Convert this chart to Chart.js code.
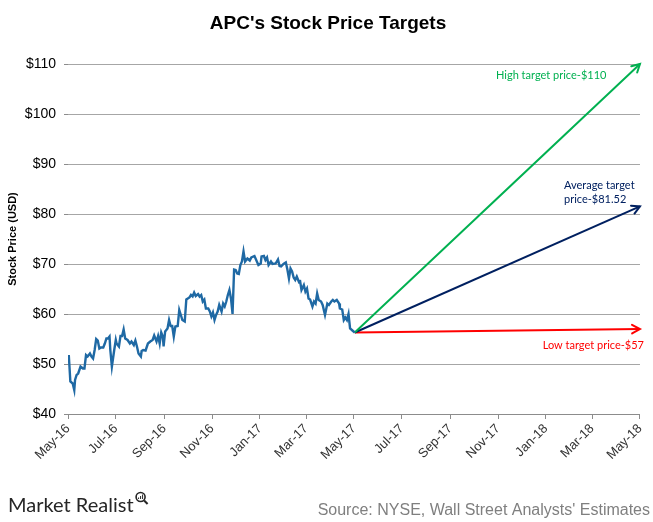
<!DOCTYPE html>
<html>
<head>
<meta charset="utf-8">
<script src="https://cdn.jsdelivr.net/npm/chart.js@4.4.1/dist/chart.umd.min.js"></script>
<style>
  html, body { margin: 0; padding: 0; background: #fff; }
  #wrap { width: 653px; height: 522px; }
</style>
</head>
<body>
<div id="wrap"><canvas id="grafico" width="653" height="522"></canvas></div>
<script>
// APC closing prices
const stockDates = [
  '2016-05-02','2016-05-04','2016-05-07','2016-05-09','2016-05-10','2016-05-12','2016-05-14','2016-05-17',
  '2016-05-20','2016-05-22','2016-05-24','2016-05-26','2016-05-29','2016-05-31','2016-06-02','2016-06-04',
  '2016-06-06','2016-06-08','2016-06-10','2016-06-12','2016-06-15','2016-06-17','2016-06-19','2016-06-21',
  '2016-06-23','2016-06-24','2016-06-26','2016-06-29','2016-07-01','2016-07-02','2016-07-05','2016-07-07',
  '2016-07-09','2016-07-11','2016-07-13','2016-07-16','2016-07-19','2016-07-21','2016-07-24','2016-07-26',
  '2016-07-28','2016-07-30','2016-08-02','2016-08-03','2016-08-05','2016-08-08','2016-08-11','2016-08-14',
  '2016-08-17','2016-08-19','2016-08-22','2016-08-24','2016-08-26','2016-08-28','2016-08-30','2016-08-31',
  '2016-09-02','2016-09-05','2016-09-07','2016-09-09','2016-09-11','2016-09-13','2016-09-15','2016-09-18',
  '2016-09-20','2016-09-22','2016-09-24','2016-09-27','2016-09-29','2016-10-03','2016-10-05','2016-10-07',
  '2016-10-09','2016-10-11','2016-10-14','2016-10-16','2016-10-18','2016-10-20','2016-10-22','2016-10-24',
  '2016-10-27','2016-10-29','2016-10-31','2016-11-02','2016-11-04','2016-11-06','2016-11-08','2016-11-10',
  '2016-11-13','2016-11-15','2016-11-17','2016-11-19','2016-11-21','2016-11-23','2016-11-25','2016-11-27',
  '2016-11-29','2016-12-01','2016-12-03','2016-12-05','2016-12-07','2016-12-09','2016-12-11','2016-12-13',
  '2016-12-16','2016-12-19','2016-12-21','2016-12-25','2016-12-30','2017-01-02','2017-01-03','2017-01-06',
  '2017-01-08','2017-01-10','2017-01-12','2017-01-15','2017-01-17','2017-01-21','2017-01-24','2017-01-26',
  '2017-01-28','2017-01-31','2017-02-03','2017-02-05','2017-02-07','2017-02-09','2017-02-11','2017-02-13',
  '2017-02-15','2017-02-17','2017-02-20','2017-02-21','2017-02-23','2017-02-26','2017-02-28','2017-03-02',
  '2017-03-04','2017-03-06','2017-03-09','2017-03-11','2017-03-13','2017-03-15','2017-03-17','2017-03-20',
  '2017-03-22','2017-03-25','2017-03-28','2017-03-30','2017-04-02','2017-04-04','2017-04-06','2017-04-09',
  '2017-04-12','2017-04-13','2017-04-16','2017-04-18','2017-04-20','2017-04-22','2017-04-24','2017-04-26',
  '2017-04-29','2017-05-02'
];
const stockPrices = [
  51.8, 46.5, 46.1, 44.8, 46.8, 47.8, 48.1, 49.5,
  49.1, 49.1, 51.8, 51.5, 52.1, 51.5, 51.1, 52.8,
  55.0, 54.7, 53.1, 53.3, 53.3, 54.1, 55.1, 55.1,
  55.5, 52.8, 49.5, 52.8, 54.8, 54.1, 53.5, 55.6,
  55.6, 56.9, 55.1, 54.8, 54.1, 54.5, 53.8, 54.7,
  53.5, 52.1, 51.5, 52.6, 52.8, 52.7, 54.1, 54.5,
  54.8, 55.7, 54.5, 55.6, 54.1, 56.3, 55.5, 53.5,
  56.5, 57.1, 58.8, 57.6, 57.6, 55.5, 57.5, 57.6,
  60.8, 59.8, 58.8, 58.5, 62.9, 63.3, 63.8, 63.5,
  64.3, 63.6, 64.0, 63.5, 63.8, 62.5, 62.9, 61.1,
  61.1, 60.5, 59.5, 60.3, 58.8, 59.8, 60.5, 61.8,
  60.5, 62.1, 61.5, 62.5, 63.8, 64.8, 63.1, 60.0,
  68.9, 68.8, 68.1, 68.0, 69.8, 70.5, 72.5, 70.5,
  71.1, 70.7, 71.3, 71.6, 69.8, 70.1, 71.5, 71.6,
  70.8, 71.3, 69.8, 70.5, 70.0, 70.1, 70.9, 69.6,
  69.5, 70.0, 70.3, 68.9, 67.1, 69.1, 68.5, 67.3,
  66.8, 67.5, 66.3, 66.8, 64.8, 65.8, 64.5, 65.1,
  63.1, 62.9, 61.5, 62.5, 62.1, 64.1, 62.8, 62.5,
  61.8, 59.8, 62.1, 61.8, 62.5, 62.8, 62.5, 62.8,
  62.1, 61.1, 60.9, 58.8, 59.3, 58.8, 60.0, 57.1,
  56.7, 56.3
];

// analysts' targets (one year out)
const targetNames = ['High target price-$110', 'Average target price-$81.52', 'Low target price-$57'];
const targetValues = [110, 81.52, 57];
const targetColors = ['#00B050', '#002060', '#FF0000'];
const targetDate = '2018-05-01';

const tickLabels = ['May-16','Jul-16','Sep-16','Nov-16','Jan-17','Mar-17','May-17',
                    'Jul-17','Sep-17','Nov-17','Jan-18','Mar-18','May-18'];

const titulo = "APC's Stock Price Targets";

const origem = Date.parse('2016-05-01');
function dia(iso) {
  return (Date.parse(iso) - origem) / 86400000;
}
const meses = ['Jan','Feb','Mar','Apr','May','Jun','Jul','Aug','Sep','Oct','Nov','Dec'];
function diaDoRotulo(r) {
  const [m, a] = r.split('-');
  return (Date.UTC(2000 + parseInt(a), meses.indexOf(m), 1) - origem) / 86400000;
}
const tickDias = tickLabels.map(diaDoRotulo);

const ultimo = { x: dia(stockDates[stockDates.length - 1]), y: stockPrices[stockPrices.length - 1] };

const datasets = [{
  label: 'APC',
  data: stockDates.map((d, i) => ({ x: dia(d), y: stockPrices[i] })),
  borderColor: '#1F69A4',
  borderWidth: 2.4,
  pointRadius: 0,
  tension: 0
}];
targetValues.forEach((v, i) => {
  datasets.push({
    label: targetNames[i],
    data: [ultimo, { x: dia(targetDate), y: v }],
    borderColor: targetColors[i],
    borderWidth: 2,
    pointRadius: 0,
    clip: false
  });
});

// arrow heads + target labels
const setas = {
  id: 'setas',
  afterDatasetsDraw(chart) {
    const ctx = chart.ctx;
    for (let i = 1; i < chart.data.datasets.length; i++) {
      const pts = chart.getDatasetMeta(i).data;
      const a = pts[0], b = pts[1];
      const ang = Math.atan2(b.y - a.y, b.x - a.x);
      const cor = targetColors[i - 1];
      ctx.save();
      ctx.strokeStyle = cor;
      ctx.lineWidth = 2;
      ctx.lineCap = 'round';
      ctx.beginPath();
      ctx.moveTo(b.x - 9 * Math.cos(ang - 0.5), b.y - 9 * Math.sin(ang - 0.5));
      ctx.lineTo(b.x, b.y);
      ctx.lineTo(b.x - 9 * Math.cos(ang + 0.5), b.y - 9 * Math.sin(ang + 0.5));
      ctx.stroke();

      ctx.fillStyle = cor;
      ctx.font = '11px Lato, "Open Sans", sans-serif';
      ctx.textBaseline = 'middle';
      if (i === 1) {
        ctx.textAlign = 'left';
        ctx.fillText(targetNames[0], b.x - 144, b.y + 11);
      } else if (i === 2) {
        ctx.textAlign = 'left';
        ctx.fillText('Average target', b.x - 76, b.y - 21);
        ctx.fillText('price-$81.52', b.x - 76, b.y - 7);
      } else {
        ctx.textAlign = 'right';
        ctx.fillText(targetNames[2], b.x + 4, b.y + 16);
      }
      ctx.restore();
    }
  }
};

// título, logo e fonte
const textos = {
  id: 'textos',
  afterDraw(chart) {
    const ctx = chart.ctx;
    ctx.save();
    ctx.fillStyle = '#000';
    ctx.font = 'bold 19px Arial, "Liberation Sans", sans-serif';
    ctx.textAlign = 'center';
    ctx.textBaseline = 'alphabetic';
    ctx.fillText(titulo, 328, 29);

    ctx.fillStyle = '#262626';
    ctx.font = '20px Lato, "Noto Sans", sans-serif';
    ctx.textAlign = 'left';
    ctx.fillText('Market Realist', 8, 512);
    const w = ctx.measureText('Market Realist').width;
    // lupa
    const cx = 8 + w + 7, cy = 497;
    ctx.strokeStyle = '#262626';
    ctx.lineWidth = 1.6;
    ctx.beginPath();
    ctx.arc(cx, cy, 4.5, 0, Math.PI * 2);
    ctx.stroke();
    ctx.lineWidth = 2;
    ctx.beginPath();
    ctx.moveTo(cx + 3.5, cy + 3.5);
    ctx.lineTo(cx + 7, cy + 7);
    ctx.stroke();
    ctx.lineWidth = 1;
    ctx.beginPath();
    ctx.moveTo(cx - 2, cy + 2); ctx.lineTo(cx - 2, cy + 0.5);
    ctx.moveTo(cx, cy + 2); ctx.lineTo(cx, cy - 1);
    ctx.moveTo(cx + 2, cy + 2); ctx.lineTo(cx + 2, cy - 2.5);
    ctx.stroke();

    ctx.fillStyle = '#7f7f7f';
    ctx.font = '16px Arial, "Liberation Sans", sans-serif';
    ctx.textAlign = 'right';
    ctx.fillText("Source: NYSE, Wall Street Analysts' Estimates", 650, 515);
    ctx.restore();
  }
};

const ctx = document.getElementById('grafico').getContext('2d');
const grafico = new Chart(ctx, {
  type: 'line',
  data: { datasets: datasets },
  plugins: [setas, textos],
  options: {
    responsive: false,
    animation: false,
    layout: { padding: { left: 0, right: 12, top: 64, bottom: 0 } },
    plugins: {
      legend: { display: false },
      tooltip: { enabled: false },
      title: { display: false }
    },
    scales: {
      x: {
        type: 'linear',
        min: 0,
        max: dia(targetDate),
        afterBuildTicks: (s) => { s.ticks = tickDias.map(v => ({ value: v })); },
        afterFit: (s) => { s.height = 108; },
        border: { display: true, color: '#8c8c8c', width: 1 },
        grid: { display: true, drawOnChartArea: false, drawTicks: true, tickLength: 5, color: '#8c8c8c' },
        ticks: {
          autoSkip: false,
          maxRotation: 45,
          minRotation: 45,
          padding: 2,
          color: '#333',
          font: { family: 'Arial, "Liberation Sans", sans-serif', size: 13 },
          callback: (v, i) => tickLabels[i]
        }
      },
      y: {
        min: 40,
        max: 110,
        afterFit: (s) => { s.width = 68; },
        border: { display: false },
        grid: {
          color: '#a6a6a6',
          lineWidth: 1,
          borderDash: [4, 3],
          drawTicks: true,
          tickLength: 4,
          tickColor: '#8c8c8c',
          tickBorderDash: []
        },
        ticks: {
          stepSize: 10,
          padding: 8,
          color: '#000',
          font: { family: 'Arial, "Liberation Sans", sans-serif', size: 14 },
          callback: (v) => '$' + v
        },
        title: {
          display: true,
          text: 'Stock Price (USD)',
          color: '#000',
          font: { family: 'Arial, "Liberation Sans", sans-serif', size: 11, weight: 'bold' },
          padding: { top: 6, bottom: 0 }
        }
      }
    }
  }
});
</script>
</body>
</html>
